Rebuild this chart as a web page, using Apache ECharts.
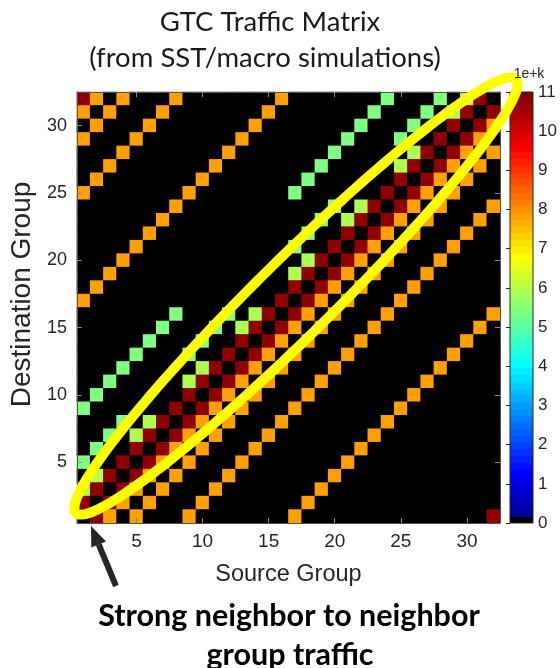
<!DOCTYPE html>
<html>
<head>
<meta charset="utf-8">
<script src="https://cdn.jsdelivr.net/npm/echarts@6/dist/echarts.min.js"></script>
<style>
  html, body { margin: 0; padding: 0; background: #fff; }
  #chart { width: 560px; height: 668px; }
</style>
</head>
<body>
<div id="chart"></div>
<script>
// ---- data -------------------------------------------------------------
// Group numbers on both axes
const groups = Array.from({ length: 32 }, (_, i) => String(i + 1));
// Labelled ticks on the group axes
const groupTicks = [5, 10, 15, 20, 25, 30];
// Colour-bar ticks (exponent k of 1e+k)
const colorbarTicks = [0, 1, 2, 3, 4, 5, 6, 7, 8, 9, 10, 11];
// Traffic level (exponent) for each cell code
const levelCodes = { '.': 0, 'R': 10.83, 'O': 7.86, 'Y': 5.94, 'G': 5.41 };
// One string per destination group, group 32 first; one char per source group 1..32
const trafficRows = [
  'RO.O...O.......O.......G...G.YR.', // 32
  'O.O...O.......O.......G...G.YR.R', // 31
  '.O...O.......O.......G...G..R.RO', // 30
  'O...O.......O.......G...G..R.RO.', // 29
  '...O.......O.......G.....YR.RO.O', // 28
  '..O.......O.......G.....YR.RO.O.', // 27
  '.O.......O.......G......R.RO.O..', // 26
  'O.......O.......G......R.RO.O...', // 25
  '.......O...........G.YR.RO.O...O', // 24
  '......O...........G.YR.RO.O...O.', // 23
  '.....O...........G..R.RO.O...O..', // 22
  '....O...........G..R.RO.O...O...', // 21
  '...O.............YR.RO.O...O....', // 20
  '..O.............YR.RO.O...O.....', // 19
  '.O..............R.RO.O...O......', // 18
  'O..............R.RO.O...O.......', // 17
  '.......G...G.YR.RO.O...O.......O', // 16
  '......G...G.YR.RO.O...O.......O.', // 15
  '.....G...G..R.RO.O...O.......O..', // 14
  '....G...G..R.RO.O...O.......O...', // 13
  '...G.....YR.RO.O...O.......O....', // 12
  '..G.....YR.RO.O...O.......O.....', // 11
  '.G......R.RO.O...O.......O......', // 10
  'G......R.RO.O...O.......O.......', // 9
  '...G.YR.RO.O...O.......O........', // 8
  '..G.YR.RO.O...O.......O.........', // 7
  '.G..R.RO.O...O.......O..........', // 6
  'G..R.RO.O...O.......O...........', // 5
  '.YR.RO.O...O.......O............', // 4
  'YR.RO.O...O.......O.............', // 3
  'R.RO.O...O.......O..............', // 2
  '.RO.O...O.......O..............R'  // 1
];

// ---- colour map: MATLAB-style jet(64) with black for the lowest bin ---
function jetMap(m) {
  const n = Math.ceil(m / 4);
  const u = [];
  for (let i = 1; i <= n; i++) u.push(i / n);
  for (let i = 1; i < n; i++) u.push(1);
  for (let i = n; i >= 1; i--) u.push(i / n);
  const off = Math.ceil(n / 2) - (m % 4 === 1 ? 1 : 0);
  const cmap = Array.from({ length: m }, () => [0, 0, 0]);
  u.forEach((val, k) => {
    const g = off + k + 1, r = g + n, b = g - n;
    if (g >= 1 && g <= m) cmap[g - 1][1] = val;
    if (r >= 1 && r <= m) cmap[r - 1][0] = val;
    if (b >= 1 && b <= m) cmap[b - 1][2] = val;
  });
  return cmap;
}
const cmap = jetMap(64);
cmap[0] = [0, 0, 0];
const toRgb = c => 'rgb(' + c.map(v => Math.round(v * 255)).join(',') + ')';
const cmapColors = cmap.map(toRgb);

// ---- heatmap cells ------------------------------------------------------
const cells = [];
trafficRows.forEach((row, r) => {
  const yIdx = trafficRows.length - 1 - r;
  for (let x = 0; x < row.length; x++) {
    cells.push([x, yIdx, levelCodes[row[x]]]);
  }
});

// ---- layout -------------------------------------------------------------
const plot = { left: 68, top: 92, width: 432, height: 431 };
const cbar = { left: 510, top: 92, width: 23, height: 431 };
const cMin = 0, cMax = 11;
const axisText = '#262626';
const isTick = (i, v) => groupTicks.includes(Number(v));

// colour-bar gradient: hard bands, one per colour-map entry (bottom = 0)
const stops = [];
cmapColors.forEach((c, i) => {
  stops.push({ offset: i / cmapColors.length, color: c });
  stops.push({ offset: (i + 1) / cmapColors.length, color: c });
});

// highlight ellipse around the main diagonal
const ell = { cx: 296, cy: 296, a: 309, b: 38, angle: 44.6 * Math.PI / 180 };
const ellPts = [];
for (let k = 0; k < 180; k++) {
  const p = 2 * Math.PI * k / 180;
  const ex = ell.a * Math.cos(p), ey = ell.b * Math.sin(p);
  ellPts.push([
    ell.cx + ex * Math.cos(ell.angle) - ey * Math.sin(ell.angle),
    ell.cy - (ex * Math.sin(ell.angle) + ey * Math.cos(ell.angle))
  ]);
}

// arrow pointing at the diagonal's lower end
const arrowTail = [116, 586], arrowTip = [91, 526];
const adx = arrowTip[0] - arrowTail[0], ady = arrowTip[1] - arrowTail[1];
const alen = Math.hypot(adx, ady);
const ux = adx / alen, uy = ady / alen, px = -uy, py = ux;
const headLen = 20, headHalf = 8;
const hb = [arrowTip[0] - ux * headLen, arrowTip[1] - uy * headLen];

const chart = echarts.init(document.getElementById('chart'), null, { renderer: 'canvas' });
chart.setOption({
  animation: false,
  backgroundColor: '#ffffff',
  grid: [
    Object.assign({ show: true, backgroundColor: '#000', borderWidth: 0 }, plot),
    Object.assign({ show: false }, cbar)
  ],
  xAxis: [
    {
      type: 'category', data: groups, gridIndex: 0, position: 'bottom', z: 3,
      axisLine: { show: true, onZero: false, lineStyle: { color: '#555', width: 1 } },
      axisTick: { show: true, inside: true, length: 5, alignWithLabel: true, interval: isTick, lineStyle: { color: '#8a8a8a' } },
      axisLabel: { interval: isTick, fontSize: 19, color: axisText, fontFamily: 'Liberation Sans', margin: 9 },
      splitLine: { show: false },
      name: 'Source Group', nameLocation: 'middle', nameGap: 40,
      nameTextStyle: { fontSize: 23.5, color: axisText, fontFamily: 'Liberation Sans' }
    },
    {
      type: 'category', data: groups, gridIndex: 0, position: 'top', z: 3,
      axisLine: { show: true, onZero: false, lineStyle: { color: '#555', width: 1 } },
      axisTick: { show: true, inside: true, length: 5, alignWithLabel: true, interval: isTick, lineStyle: { color: '#8a8a8a' } },
      axisLabel: { show: false }, splitLine: { show: false }
    },
    { type: 'value', gridIndex: 1, show: false, min: 0, max: 1 }
  ],
  yAxis: [
    {
      type: 'category', data: groups, gridIndex: 0, position: 'left', z: 3,
      axisLine: { show: true, onZero: false, lineStyle: { color: '#555', width: 1 } },
      axisTick: { show: true, inside: true, length: 5, alignWithLabel: true, interval: isTick, lineStyle: { color: '#8a8a8a' } },
      axisLabel: { interval: isTick, fontSize: 18, color: axisText, fontFamily: 'Liberation Sans', margin: 10 },
      splitLine: { show: false },
      name: 'Destination Group', nameLocation: 'middle', nameGap: 30,
      nameTextStyle: { fontSize: 28, color: axisText, fontFamily: 'Liberation Sans', padding: [0, 0, 0, 26] }
    },
    {
      type: 'category', data: groups, gridIndex: 0, position: 'right', z: 3,
      axisLine: { show: true, onZero: false, lineStyle: { color: '#555', width: 1 } },
      axisTick: { show: true, inside: true, length: 5, alignWithLabel: true, interval: isTick, lineStyle: { color: '#8a8a8a' } },
      axisLabel: { show: false }, splitLine: { show: false }
    },
    {
      type: 'value', gridIndex: 1, position: 'right', min: cMin, max: cMax, interval: 1, z: 5,
      axisLine: { show: false },
      axisTick: { show: true, inside: true, length: 4, lineStyle: { color: '#262626' } },
      axisLabel: {
        fontSize: 17, color: axisText, fontFamily: 'Liberation Sans', margin: 7,
        formatter: v => (colorbarTicks.includes(v) ? String(v) : '')
      },
      splitLine: { show: false }
    }
  ],
  visualMap: {
    show: false, type: 'continuous', seriesIndex: 0,
    min: cMin, max: cMax, inRange: { color: cmapColors }
  },
  series: [{
    type: 'heatmap', xAxisIndex: 0, yAxisIndex: 0, data: cells,
    itemStyle: { borderWidth: 0 }, emphasis: { disabled: true }, progressive: 0
  }],
  graphic: [
    {
      type: 'rect', z: 4, silent: true,
      shape: { x: cbar.left, y: cbar.top, width: cbar.width, height: cbar.height },
      style: {
        fill: new echarts.graphic.LinearGradient(0, 1, 0, 0, stops),
        stroke: '#262626', lineWidth: 1
      }
    },
    {
      type: 'text', z: 10, silent: true,
      style: { x: 270, y: 22, text: 'GTC Traffic Matrix', textAlign: 'center', textVerticalAlign: 'middle',
        font: '27.5px Lato', fill: '#1a1a1a' }
    },
    {
      type: 'text', z: 10, silent: true,
      style: { x: 265, y: 58, text: '(from SST/macro simulations)', textAlign: 'center', textVerticalAlign: 'middle',
        font: '27.5px Lato', fill: '#1a1a1a' }
    },
    {
      type: 'polygon', z: 12, silent: true,
      shape: { points: ellPts },
      style: { fill: 'none', stroke: '#ffff00', lineWidth: 10 }
    },
    {
      type: 'text', z: 14, silent: true,
      style: { x: 529, y: 74, text: '1e+k', textAlign: 'center', textVerticalAlign: 'middle',
        font: '14px "Liberation Sans"', fill: axisText }
    },
    {
      type: 'line', z: 12, silent: true,
      shape: { x1: arrowTail[0], y1: arrowTail[1], x2: hb[0], y2: hb[1] },
      style: { stroke: '#262626', lineWidth: 6 }
    },
    {
      type: 'polygon', z: 12, silent: true,
      shape: { points: [arrowTip, [hb[0] + px * headHalf, hb[1] + py * headHalf], [hb[0] - px * headHalf, hb[1] - py * headHalf]] },
      style: { fill: '#262626' }
    },
    {
      type: 'text', z: 10, silent: true,
      style: { x: 289, y: 616, text: 'Strong neighbor to neighbor', textAlign: 'center', textVerticalAlign: 'middle',
        font: 'bold 30.5px Lato', fill: '#000' }
    },
    {
      type: 'text', z: 10, silent: true,
      style: { x: 290, y: 655, text: 'group traffic', textAlign: 'center', textVerticalAlign: 'middle',
        font: 'bold 30.5px Lato', fill: '#000' }
    }
  ]
});
</script>
</body>
</html>
